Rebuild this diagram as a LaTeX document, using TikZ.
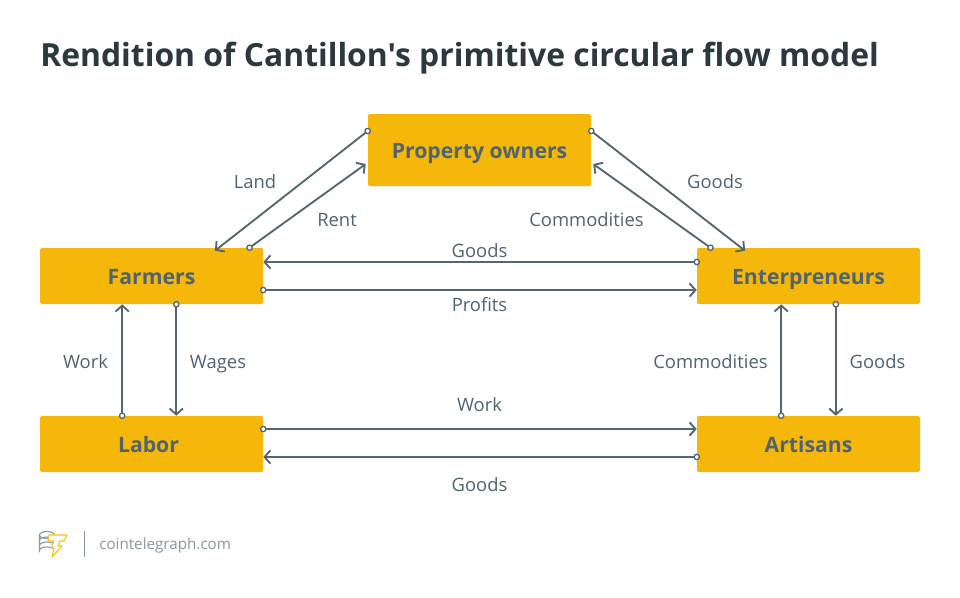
\documentclass[tikz,border=0pt]{standalone}
\usepackage{fontspec}
\setmainfont{Open Sans}[Ligatures=TeXOff]
\usetikzlibrary{arrows.meta,calc}
\definecolor{boxc}{HTML}{F5B70A}
\definecolor{linec}{HTML}{54676F}
\definecolor{titlec}{HTML}{2A383F}
\definecolor{textc}{HTML}{4F6470}
\definecolor{logoc}{HTML}{8B979E}
\tikzset{
  boxnode/.style={fill=boxc,rounded corners=1.5pt,inner sep=0,minimum width=167.25pt,text=textc,text height=15.5pt,text depth=3.3pt,font=\fontsize{15.9pt}{18pt}\selectfont\bfseries},
  flow/.style={draw=linec,line width=1.4pt,shorten <=-2.5pt,{Circle[open,fill=white,length=5pt,width=5pt,line width=1pt]}-{Straight Barb[length=4.5pt,width=10pt,line width=1.4pt]}},
  lab/.style={text=textc,inner sep=0,text height=10pt,text depth=3pt,yshift=-1.8pt,font=\fontsize{13.8pt}{16pt}\selectfont},
}
\begin{document}
\begin{tikzpicture}[x=0.75pt,y=-0.75pt]
\useasboundingbox[fill=white] (0,0) rectangle (960,597);
\node[anchor=west,inner sep=0,text=titlec,text height=18pt,text depth=5pt,font=\fontsize{23.9pt}{29pt}\selectfont\bfseries] (title) at (40,57.5) {Rendition of Cantillon's primitive circular flow model};
\node[boxnode,minimum height=54pt] (po) at (479.5,150) {Property owners};
\node[boxnode,minimum height=42pt] (fa) at (151.5,276) {Farmers};
\node[boxnode,minimum height=42pt] (en) at (808.5,276) {Enterpreneurs};
\node[boxnode,minimum height=42pt] (la) at (151.5,444) {\kern-4.5pt Labor};
\node[boxnode,minimum height=42pt] (ar) at (808.5,444) {Artisans};
% connectors
\draw[flow] ([yshift=14.25pt]po.west) -- ([shift={(47.6pt,-2.25pt)}]fa.north);
\draw[flow] ([xshift=73.5pt]fa.north) -- ([shift={(-1.5pt,-10.5pt)}]po.west);
\draw[flow] ([yshift=14.25pt]po.east) -- ([shift={(-47.6pt,-2.25pt)}]en.north);
\draw[flow] ([xshift=-73.5pt]en.north) -- ([shift={(1.5pt,-10.5pt)}]po.east);
\draw[flow] ([yshift=10.5pt]en.west) -- ([yshift=10.5pt]fa.east);
\draw[flow] ([yshift=-10.5pt]fa.east) -- ([yshift=-10.5pt]en.west);
\draw[flow] ([xshift=-22pt]la.north) -- ([xshift=-22pt]fa.south);
\draw[flow] ([xshift=18.6pt]fa.south) -- ([xshift=18.6pt]la.north);
\draw[flow] ([xshift=-20.5pt]ar.north) -- ([xshift=-20.5pt]en.south);
\draw[flow] ([xshift=20.5pt]en.south) -- ([xshift=20.5pt]ar.north);
\draw[flow] ([yshift=11.25pt]la.east) -- ([yshift=11.25pt]ar.west);
\draw[flow] ([yshift=-9.75pt]ar.west) -- ([yshift=-9.75pt]la.east);
% labels
\node[lab] (l1) at (255,181) {Land};
\node[lab] (l2) at (337,219) {Rent};
\node[lab] (l3) at (715,181) {Goods};
\node[lab] (l4) at (586.5,219) {Commodities};
\node[lab] (l5) at (479.5,250) {Goods};
\node[lab] (l6) at (479.5,304) {Profits};
\node[lab] (l7) at (85.5,361) {Work};
\node[lab] (l8) at (218,361) {Wages};
\node[lab] (l9) at (710.5,361) {Commodities};
\node[lab] (l10) at (877.5,361) {Goods};
\node[lab] (l11) at (479.5,404) {Work};
\node[lab] (l12) at (479.5,484) {Goods};
% logo
\draw[logoc,line width=.75pt] (84,530.5) -- (84,556.5);
\node[anchor=west,inner sep=0,text=logoc,text height=8.5pt,text depth=2.5pt,font=\fontsize{11.4pt}{14pt}\selectfont] (site) at (99,545) {cointelegraph.com};
\begin{scope}[line width=.8pt,draw=logoc]
\draw (47,535) ellipse[x radius=7.5,y radius=3.5];
\draw (39.5,535) -- (39.5,550.5) arc[start angle=180,end angle=360,x radius=7.5,y radius=3.5];
\draw (39.5,540.5) arc[start angle=180,end angle=360,x radius=7.5,y radius=3.5];
\draw (39.5,545.5) arc[start angle=180,end angle=360,x radius=7.5,y radius=3.5];
\end{scope}
\draw[boxc!85!yellow,line width=.8pt,line join=round,fill=white] (49,535) -- (67,535) -- (64,541) -- (60,541) -- (58,546) -- (62,546) -- (52,557) -- (54,548) -- (51,548) -- (54,541) -- (48,541) -- cycle;
\end{tikzpicture}
\end{document}
